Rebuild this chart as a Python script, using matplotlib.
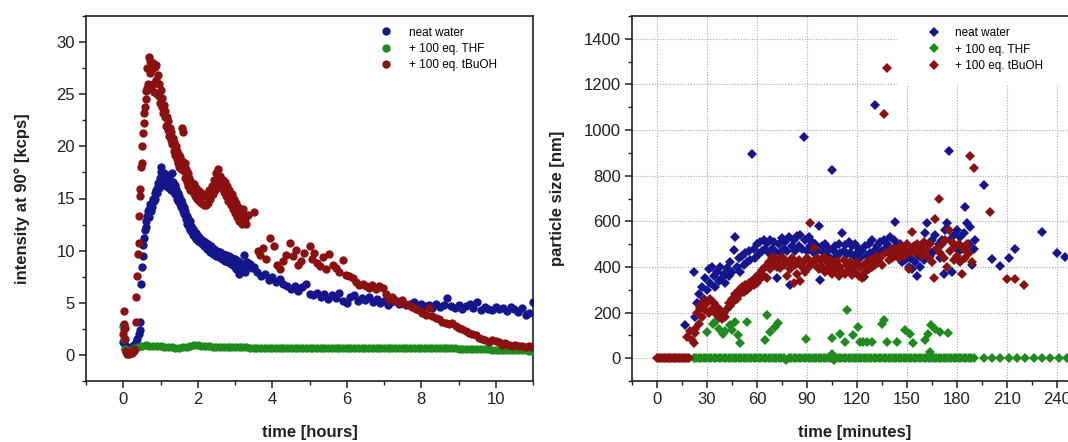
import numpy as np
import matplotlib.pyplot as plt
from matplotlib.patches import Rectangle
from matplotlib.ticker import MultipleLocator

plt.rcParams["font.family"] = ["Liberation Sans", "DejaVu Sans"]

labels = ["neat water", "+ 100 eq. THF", "+ 100 eq. tBuOH"]
colors = ["#15158c", "#1f8b1f", "#8b1111"]

# ---- left panel: scattered intensity vs time [hours] ----
water_t = [0.0, 0.02, 0.04, 0.06, 0.08, 0.1, 0.14, 0.18, 0.22, 0.26, 0.3, 0.34, 0.38, 0.42, 0.44, 0.46,
           0.48, 0.5, 0.52, 0.54, 0.56, 0.58, 0.6, 0.62, 0.64, 0.66, 0.68, 0.7, 0.72, 0.74, 0.76, 0.78,
           0.8, 0.82, 0.84, 0.86, 0.88, 0.9, 0.92, 0.94, 0.96, 0.98, 1.0, 1.02, 1.04, 1.06, 1.08, 1.1,
           1.12, 1.14, 1.16, 1.18, 1.2, 1.22, 1.24, 1.26, 1.28, 1.3, 1.32, 1.34, 1.36, 1.38, 1.4, 1.42,
           1.44, 1.46, 1.48, 1.5, 1.52, 1.54, 1.56, 1.58, 1.6, 1.62, 1.64, 1.66, 1.68, 1.7, 1.72, 1.74,
           1.76, 1.78, 1.8, 1.82, 1.84, 1.86, 1.88, 1.9, 1.92, 1.94, 1.96, 1.98, 2.0, 2.04, 2.08, 2.12,
           2.16, 2.2, 2.24, 2.28, 2.32, 2.36, 2.4, 2.44, 2.48, 2.52, 2.56, 2.6, 2.64, 2.68, 2.72, 2.76,
           2.8, 2.84, 2.88, 2.92, 2.96, 3.0, 3.04, 3.08, 3.12, 3.16, 3.2, 3.24, 3.28, 3.32, 3.36, 3.4,
           3.45, 3.5, 3.6, 3.7, 3.8, 3.9, 4.0, 4.1, 4.2, 4.3, 4.4, 4.5, 4.6, 4.7, 4.8, 4.9,
           5.0, 5.1, 5.2, 5.3, 5.4, 5.5, 5.6, 5.7, 5.8, 5.9, 6.0, 6.1, 6.2, 6.3, 6.4, 6.5,
           6.6, 6.7, 6.8, 6.9, 7.0, 7.1, 7.2, 7.3, 7.4, 7.5, 7.6, 7.7, 7.8, 7.9, 8.0, 8.1,
           8.2, 8.3, 8.4, 8.5, 8.6, 8.7, 8.8, 8.9, 9.0, 9.1, 9.2, 9.3, 9.4, 9.5, 9.6, 9.7,
           9.8, 9.9, 10.0, 10.1, 10.2, 10.3, 10.4, 10.5, 10.6, 10.7, 10.8, 10.9, 11.0]
water_int = [1.2, 2.5, 1.0, 0.6, 0.3, 0.4, 0.6, 0.5, 0.8, 0.9, 1.0, 1.2, 1.5, 2.0, 3.2, 2.4,
             6.8, 8.4, 9.5, 10.5, 11.2, 12.0, 12.8, 12.3, 13.3, 13.8, 13.2, 14.0, 14.5, 13.8, 14.6, 14.2,
             15.0, 14.8, 15.5, 15.0, 15.8, 15.5, 16.2, 16.5, 16.0, 17.0, 18.0, 17.5, 16.5, 17.2, 16.6, 17.4,
             16.3, 17.0, 16.2, 16.9, 16.4, 17.3, 16.0, 16.8, 15.8, 17.4, 16.1, 16.6, 15.6, 16.3, 15.4, 15.9,
             15.0, 15.5, 14.8, 15.2, 14.5, 14.9, 14.2, 14.6, 13.8, 14.2, 13.5, 13.8, 13.0, 13.3, 12.6, 13.0,
             12.3, 12.8, 12.0, 12.4, 11.8, 12.1, 11.5, 11.9, 11.3, 11.7, 11.1, 11.5, 10.9, 11.3, 10.7, 11.0,
             10.4, 10.8, 10.2, 10.6, 9.9, 10.4, 9.7, 10.2, 9.5, 10.0, 9.4, 9.9, 9.2, 9.7, 9.0, 9.6,
             8.9, 9.5, 8.7, 9.3, 8.5, 9.2, 8.2, 9.0, 7.8, 8.8, 8.4, 9.6, 8.0, 8.9, 8.5, 8.7,
             8.3, 8.4, 8.0, 7.6, 7.8, 7.2, 7.5, 7.0, 7.3, 6.8, 6.6, 6.3, 6.6, 6.1, 6.5, 6.8,
             5.8, 5.7, 5.9, 5.6, 5.8, 5.4, 5.7, 5.5, 5.9, 5.2, 5.0, 5.6, 5.7, 5.2, 5.5, 5.3,
             5.6, 5.1, 5.4, 5.0, 5.2, 4.8, 5.1, 5.3, 4.9, 5.0, 4.8, 4.9, 5.1, 4.7, 4.9, 4.7,
             4.8, 4.5, 4.9, 4.6, 4.8, 5.5, 4.7, 4.5, 4.8, 4.4, 4.7, 4.9, 4.5, 5.1, 4.3, 4.6,
             4.4, 4.3, 4.6, 4.4, 4.5, 4.2, 4.6, 4.4, 4.1, 4.5, 3.8, 4.0, 5.1]

thf_t = [0.0, 0.03, 0.06, 0.1, 0.15, 0.2, 0.25, 0.3, 0.4, 0.5, 0.6, 0.7, 0.8, 0.9, 1.0, 1.1,
         1.2, 1.3, 1.4, 1.5, 1.6, 1.7, 1.8, 1.9, 2.0, 2.1, 2.2, 2.3, 2.4, 2.5, 2.6, 2.7,
         2.8, 2.9, 3.0, 3.1, 3.2, 3.3, 3.4, 3.5, 3.6, 3.7, 3.8, 3.9, 4.0, 4.1, 4.2, 4.3,
         4.4, 4.5, 4.6, 4.7, 4.8, 4.9, 5.0, 5.1, 5.2, 5.3, 5.4, 5.5, 5.6, 5.7, 5.8, 5.9,
         6.0, 6.1, 6.2, 6.3, 6.4, 6.5, 6.6, 6.7, 6.8, 6.9, 7.0, 7.1, 7.2, 7.3, 7.4, 7.5,
         7.6, 7.7, 7.8, 7.9, 8.0, 8.1, 8.2, 8.3, 8.4, 8.5, 8.6, 8.7, 8.8, 8.9, 9.0, 9.1,
         9.2, 9.3, 9.4, 9.5, 9.6, 9.7, 9.8, 9.9, 10.0, 10.1, 10.2, 10.3, 10.4, 10.5, 10.6, 10.7,
         10.8, 10.9, 11.0]
thf_int = [2.8, 1.5, 0.6, 0.3, 0.4, 0.5, 0.6, 0.7, 0.8, 0.9, 0.95, 0.9, 0.9, 0.85, 0.85, 0.8,
           0.8, 0.75, 0.7, 0.7, 0.75, 0.8, 0.9, 0.95, 0.95, 0.9, 0.85, 0.85, 0.8, 0.8, 0.8, 0.78,
           0.76, 0.75, 0.75, 0.74, 0.72, 0.72, 0.7, 0.7, 0.7, 0.68, 0.68, 0.68, 0.67, 0.67, 0.66, 0.66,
           0.66, 0.65, 0.65, 0.65, 0.65, 0.65, 0.65, 0.66, 0.66, 0.66, 0.67, 0.67, 0.68, 0.68, 0.68, 0.69,
           0.7, 0.7, 0.7, 0.7, 0.7, 0.7, 0.7, 0.71, 0.71, 0.71, 0.71, 0.71, 0.7, 0.7, 0.7, 0.7,
           0.7, 0.7, 0.7, 0.69, 0.69, 0.68, 0.68, 0.67, 0.66, 0.66, 0.65, 0.64, 0.63, 0.62, 0.61, 0.6,
           0.59, 0.58, 0.57, 0.56, 0.55, 0.54, 0.53, 0.52, 0.51, 0.5, 0.49, 0.48, 0.47, 0.46, 0.45, 0.44,
           0.43, 0.42, 0.41]

tbuoh_t = [0.0, 0.02, 0.03, 0.04, 0.05, 0.07, 0.1, 0.13, 0.16, 0.2, 0.24, 0.28, 0.3, 0.33, 0.35, 0.37,
           0.39, 0.41, 0.43, 0.45, 0.46, 0.48, 0.49, 0.51, 0.53, 0.55, 0.56, 0.58, 0.6, 0.62, 0.63, 0.65,
           0.67, 0.69, 0.71, 0.73, 0.75, 0.77, 0.79, 0.81, 0.83, 0.85, 0.87, 0.89, 0.91, 0.93, 0.95, 0.97,
           0.99, 1.01, 1.03, 1.05, 1.07, 1.09, 1.11, 1.13, 1.15, 1.17, 1.19, 1.21, 1.23, 1.25, 1.27, 1.29,
           1.31, 1.33, 1.35, 1.37, 1.39, 1.41, 1.43, 1.45, 1.47, 1.49, 1.51, 1.53, 1.55, 1.57, 1.59, 1.61,
           1.63, 1.65, 1.67, 1.69, 1.71, 1.73, 1.75, 1.77, 1.8, 1.83, 1.86, 1.89, 1.92, 1.95, 1.98, 2.01,
           2.04, 2.07, 2.1, 2.13, 2.16, 2.19, 2.22, 2.25, 2.28, 2.31, 2.34, 2.37, 2.4, 2.43, 2.46, 2.49,
           2.52, 2.55, 2.58, 2.61, 2.64, 2.67, 2.7, 2.73, 2.76, 2.79, 2.82, 2.85, 2.88, 2.91, 2.94, 2.97,
           3.0, 3.03, 3.06, 3.09, 3.12, 3.15, 3.18, 3.22, 3.26, 3.3, 3.34, 3.5, 3.62, 3.68, 3.75, 3.82,
           3.93, 4.06, 4.12, 4.2, 4.29, 4.36, 4.47, 4.55, 4.64, 4.7, 4.78, 4.86, 5.0, 5.06, 5.13, 5.2,
           5.27, 5.36, 5.45, 5.53, 5.62, 5.71, 5.8, 5.89, 5.98, 6.07, 6.16, 6.25, 6.34, 6.43, 6.52, 6.6,
           6.69, 6.78, 6.87, 6.96, 7.05, 7.14, 7.22, 7.3, 7.4, 7.48, 7.57, 7.66, 7.76, 7.85, 7.94, 8.03,
           8.12, 8.2, 8.3, 8.39, 8.48, 8.57, 8.66, 8.74, 8.83, 8.92, 9.0, 9.1, 9.19, 9.28, 9.37, 9.46,
           9.55, 9.63, 9.72, 9.81, 9.9, 10.0, 10.08, 10.17, 10.26, 10.35, 10.44, 10.53, 10.62, 10.71, 10.8, 10.89,
           10.98]
tbuoh_int = [2.0, 3.0, 4.2, 2.6, 1.5, 0.4, 0.1, 0.2, 0.1, 0.3, 0.2, 0.4, 0.6, 3.2, 5.6, 7.6,
             9.7, 10.7, 13.3, 15.2, 15.9, 18.0, 18.4, 20.0, 21.3, 22.2, 23.2, 23.8, 25.3, 24.5, 25.6, 27.5,
             26.0, 28.6, 27.0, 28.2, 25.5, 27.4, 26.0, 28.0, 25.2, 27.6, 26.4, 27.8, 25.0, 26.8, 24.8, 26.0,
             24.2, 25.4, 23.8, 24.6, 23.2, 24.0, 22.8, 23.4, 22.0, 22.8, 21.6, 22.4, 21.0, 21.8, 20.6, 21.4,
             20.2, 20.8, 19.6, 20.4, 19.2, 20.0, 18.8, 19.6, 18.4, 19.2, 18.0, 19.0, 17.8, 21.8, 18.6, 21.4,
             17.6, 18.4, 17.0, 17.8, 16.6, 17.4, 16.2, 17.0, 15.8, 16.6, 15.6, 16.4, 15.2, 16.0, 15.0, 15.8,
             14.8, 15.6, 14.6, 15.4, 14.4, 15.2, 14.4, 15.4, 14.6, 15.8, 15.0, 16.2, 15.4, 16.8, 15.8, 17.4,
             16.4, 17.8, 16.6, 17.2, 16.0, 16.8, 15.6, 16.6, 15.2, 16.2, 14.8, 15.8, 14.4, 15.4, 14.0, 15.0,
             13.6, 14.6, 13.2, 14.2, 12.8, 13.6, 12.6, 14.0, 13.0, 12.6, 13.4, 13.7, 10.0, 9.6, 10.25, 9.2,
             11.2, 10.4, 8.6, 8.2, 9.0, 9.6, 10.7, 9.45, 10.1, 8.6, 9.0, 9.8, 10.4, 9.2, 9.8, 8.8,
             8.5, 9.4, 8.2, 9.7, 8.6, 8.3, 8.0, 9.1, 7.7, 7.6, 7.4, 7.0, 6.7, 6.8, 6.6, 6.4,
             6.7, 6.3, 6.6, 6.4, 5.8, 5.4, 5.6, 5.2, 5.1, 5.3, 4.9, 4.8, 4.6, 4.4, 4.3, 4.0,
             3.8, 4.5, 3.7, 3.5, 3.4, 3.2, 3.1, 3.0, 3.1, 2.8, 2.6, 2.5, 2.3, 2.1, 2.0, 1.9,
             1.6, 1.5, 1.4, 1.2, 1.4, 1.3, 1.25, 1.0, 1.1, 0.95, 0.9, 1.0, 0.85, 0.9, 0.8, 0.85,
             0.8]

# ---- right panel: particle size vs time [minutes] ----
water_min = [17, 22, 23, 24, 25, 26, 27, 28, 29, 30, 31, 32, 33, 34, 35, 36,
             37, 38, 39, 40, 41, 42, 43, 44, 45, 46, 47, 48, 49, 50, 51, 52,
             53, 54, 55, 56, 57, 58, 59, 60, 61, 62, 63, 64, 65, 66, 67, 68,
             69, 70, 71, 72, 73, 74, 75, 76, 77, 78, 79, 80, 81, 82, 83, 84,
             85, 86, 87, 88, 89, 90, 91, 92, 93, 94, 95, 96, 97, 98, 99, 100,
             101, 102, 103, 104, 105, 106, 107, 108, 109, 110, 111, 112, 113, 114, 115, 116,
             117, 118, 119, 120, 121, 122, 123, 124, 125, 126, 127, 128, 129, 130, 131, 132,
             133, 134, 135, 136, 137, 138, 139, 140, 141, 142, 143, 144, 145, 146, 147, 148,
             149, 150, 151, 152, 153, 154, 155, 156, 157, 158, 159, 160, 161, 162, 163, 164,
             165, 166, 167, 168, 169, 170, 171, 172, 173, 174, 175, 176, 177, 178, 179, 180,
             181, 182, 183, 184, 185, 186, 187, 188, 189, 190, 191, 196, 201, 206, 211, 215,
             231, 240, 245]
water_nm = [145, 378, 180, 240, 280, 220, 310, 260, 350, 300, 390, 330, 400, 360, 310, 380,
            340, 400, 350, 370, 330, 395, 360, 420, 380, 475, 530, 400, 440, 380, 450, 410,
            460, 420, 470, 430, 893, 480, 440, 500, 455, 510, 470, 520, 480, 505, 460, 520,
            480, 510, 470, 352, 500, 460, 525, 480, 510, 470, 530, 320, 490, 520, 470, 535,
            490, 540, 480, 970, 520, 470, 530, 490, 510, 460, 500, 470, 580, 342, 490, 460,
            500, 450, 480, 440, 827, 470, 490, 450, 500, 460, 548, 470, 495, 455, 510, 460,
            490, 450, 500, 460, 480, 440, 470, 355, 490, 450, 500, 460, 520, 470, 1108, 490,
            460, 510, 470, 520, 480, 500, 460, 530, 480, 520, 599, 490, 440, 500, 420, 480,
            430, 460, 400, 440, 390, 470, 420, 361, 450, 400, 480, 430, 548, 592, 500, 450,
            520, 470, 540, 480, 500, 440, 520, 371, 560, 592, 907, 520, 380, 540, 490, 560,
            470, 530, 480, 550, 661, 592, 500, 577, 408, 480, 520, 761, 435, 405, 440, 479,
            552, 463, 443]

thf_min = [22, 23.5, 25, 26.5, 28, 29.5, 31, 32.5, 34, 35.5, 37, 38.5, 40, 41.5, 43, 44.5,
           46, 47.5, 49, 50.5, 52, 53.5, 55, 56.5, 58, 59.5, 61, 62.5, 64, 65.5, 67, 68.5,
           70, 71.5, 73, 74.5, 76, 77.5, 79, 80.5, 82, 83.5, 85, 86.5, 88, 89.5, 91, 92.5,
           94, 95.5, 97, 98.5, 100, 101.5, 103, 104.5, 106, 107.5, 109, 110.5, 112, 113.5, 115, 116.5,
           118, 119.5, 121, 122.5, 124, 125.5, 127, 128.5, 130, 131.5, 133, 134.5, 136, 137.5, 139, 140.5,
           142, 143.5, 145, 146.5, 148, 149.5, 151, 152.5, 154, 155.5, 157, 158.5, 160, 161.5, 163, 164.5,
           166, 167.5, 169, 170.5, 172, 173.5, 175, 176.5, 178, 179.5, 181, 182.5, 184, 185.5, 187, 188.5,
           190, 196, 201, 206, 211, 216, 221, 226, 231, 236, 241, 246,
           29.8, 33.8, 35, 37.4, 39.8, 41, 43.8, 45, 46.8, 48.8, 49.8, 53.8, 64.8, 66.2, 67.8, 70.8,
           72.8, 89.4, 104.8, 104.8, 109.8, 112.8, 113.8, 117.8, 120.8, 121.8, 123.8, 125.8, 128.8, 134.8, 136.2, 137.8,
           143.8, 148.8, 151.8, 153.8, 160.8, 162.8, 163.8, 164.2, 166.8, 169.8, 174.8]
thf_nm = [0, 0, 0, 0, 0, 0, 0, 0, 0, 0, 0, 0, 0, 0, 0, 0,
          0, 0, 0, 0, 0, 0, 0, 0, 0, 0, 0, 0, 0, 0, 0, 0,
          0, 0, 0, 0, 0, -8, 0, 0, 0, 0, 0, 0, 0, 0, 0, 0,
          0, 0, 0, 0, 0, 0, 0, 0, -10, 0, 0, 0, 0, 0, 0, 0,
          0, 0, 0, 0, 0, 0, 0, 0, 0, 0, 0, 0, 0, 0, 0, 0,
          0, 0, 0, 0, 0, 0, 0, 0, 0, 0, 0, 0, 0, 0, 0, 0,
          0, 0, 0, 0, 0, 0, 0, 0, 0, 0, 0, 0, 0, 0, 0, 0,
          0, 0, 0, 0, 0, 0, 0, 0, 0, 0, 0, 0,
          115, 151, 160, 129, 107, 120, 144, 125, 159, 100, 67, 159, 78, 191, 115, 137,
          156, 82, 88, 19, 107, 70, 213, 100, 137, 70, 70, 73, 73, 151, 166, 70,
          70, 122, 107, 67, 78, 107, 29, 144, 129, 115, 111]

tbuoh_min = [0, 1, 2, 3, 4, 5, 6, 7, 8, 9, 10, 11, 12, 13, 14, 15, 16, 17, 18, 19,
             18, 20, 21, 22, 22.5, 23, 24, 25, 26, 27, 28, 29, 30, 31, 32, 33,
             34, 35, 36, 37, 38, 39, 40, 41, 42, 43, 44, 45, 46, 47, 48, 49,
             50, 51, 52, 53, 54, 55, 56, 57, 58, 59, 60, 61, 62, 63, 64, 65,
             66, 67, 68, 69, 70, 71, 72, 73, 74, 75, 76, 77, 78, 79, 80, 81,
             82, 83, 84, 85, 86, 87, 88, 89, 90, 91, 92, 93, 94, 95, 96, 97,
             98, 99, 100, 101, 102, 103, 104, 105, 106, 107, 108, 109, 110, 111, 112, 113,
             114, 115, 116, 117, 118, 119, 120, 121, 122, 123, 124, 125, 126, 127, 128, 129,
             130, 131, 132, 133, 134, 135, 136, 137, 138, 139, 140, 141, 142, 143, 144, 145,
             146, 147, 148, 149, 150, 151, 152, 153, 154, 155, 156, 157, 158, 159, 160, 161,
             162, 163, 164, 165, 166, 167, 168, 169, 170, 171, 172, 173, 174, 175, 176, 177,
             178, 179, 180, 181, 182, 183, 184, 185, 186, 187, 188, 189, 190, 200, 210, 215,
             220]
tbuoh_nm = [0, 0, 0, 0, 0, 0, 0, 0, 0, 0, 0, 0, 0, 0, 0, 0, 0, 0, 0, 0,
            95, 120, 80, 65, 110, 130, 200, 150, 230, 180, 250, 210, 240, 200, 260, 215,
            240, 200, 225, 180, 210, 170, 200, 180, 215, 240, 230, 260, 250, 280, 260, 300,
            280, 310, 290, 320, 300, 330, 310, 340, 320, 350, 330, 370, 345, 385, 360, 400,
            350, 420, 390, 445, 410, 440, 400, 430, 395, 445, 410, 430, 360, 420, 390, 440,
            330, 410, 370, 430, 340, 400, 420, 380, 440, 400, 592, 420, 485, 410, 440, 390,
            430, 400, 445, 380, 420, 395, 430, 370, 410, 385, 425, 360, 400, 380, 430, 370,
            410, 390, 420, 365, 405, 380, 420, 360, 400, 350, 410, 380, 420, 390, 430, 400,
            440, 410, 450, 420, 440, 410, 1071, 460, 1274, 430, 470, 440, 480, 450, 470, 440,
            490, 460, 480, 450, 500, 391, 470, 555, 490, 460, 500, 470, 490, 450, 510, 470,
            480, 440, 500, 420, 352, 611, 480, 699, 460, 500, 440, 520, 401, 562, 470, 510,
            430, 490, 450, 500, 420, 371, 480, 440, 500, 460, 885, 420, 834, 640, 345, 345,
            323]

fig = plt.figure(figsize=(10.68, 4.42), dpi=100)
W, H = 1068, 442
ax1 = fig.add_axes([86 / W, (H - 381) / H, (533 - 86) / W, (381 - 16) / H])
ax2 = fig.add_axes([632 / W, (H - 381) / H, (W - 632) / W, (381 - 16) / H])

mk = dict(linestyle="none", markeredgewidth=0)

ax1.plot(water_t, water_int, "o", ms=6.0, color=colors[0], label=labels[0], zorder=3, **mk)
ax1.plot(thf_t, thf_int, "o", ms=6.0, color=colors[1], label=labels[1], zorder=3, **mk)
ax1.plot(tbuoh_t, tbuoh_int, "o", ms=6.0, color=colors[2], label=labels[2], zorder=4, **mk)

ax2.plot(water_min, water_nm, "D", ms=5.0, color=colors[0], label=labels[0], zorder=3, **mk)
ax2.plot(thf_min, thf_nm, "D", ms=5.0, color=colors[1], label=labels[1], zorder=3, **mk)
ax2.plot(tbuoh_min, tbuoh_nm, "D", ms=5.0, color=colors[2], label=labels[2], zorder=4, **mk)

ax1.set_xlim(-1, 11)
ax1.set_ylim(-2.5, 32.5)
ax1.xaxis.set_major_locator(MultipleLocator(2))
ax1.xaxis.set_minor_locator(MultipleLocator(1))
ax1.yaxis.set_major_locator(MultipleLocator(5))
ax1.yaxis.set_minor_locator(MultipleLocator(2.5))

ax2.set_xlim(-15, 246.6)
ax2.set_ylim(-100, 1500)
ax2.xaxis.set_major_locator(MultipleLocator(30))
ax2.xaxis.set_minor_locator(MultipleLocator(15))
ax2.yaxis.set_major_locator(MultipleLocator(200))
ax2.yaxis.set_minor_locator(MultipleLocator(100))
ax2.set_yticks(np.arange(0, 1401, 200))
ax2.grid(True, which="major", color="#a8a8a8", linestyle=(0, (1, 1.5)), linewidth=0.8, zorder=0)
ax2.spines["right"].set_visible(False)
# white box behind the legend, hiding the grid there
ax2.add_patch(Rectangle((0.608, 0.808), 0.4, 0.2, transform=ax2.transAxes,
                        facecolor="white", edgecolor="none", zorder=1.5))

for ax in (ax1, ax2):
    ax.set_axisbelow(True)
    for s in ax.spines.values():
        s.set_linewidth(1.2)
        s.set_color("#202020")
    ax.tick_params(which="major", direction="out", length=5, width=1.1, labelsize=12,
                   color="#202020", labelcolor="#202020", pad=3)
    ax.tick_params(which="minor", direction="out", length=3, width=1.0, color="#202020")
    ax.tick_params(top=False, right=False, which="both")

ax1.set_xlabel("time [hours]", fontsize=12, fontweight="bold", color="#202020")
ax1.set_ylabel("intensity at 90° [kcps]", fontsize=12, fontweight="bold", color="#202020")
ax2.set_xlabel("time [minutes]", fontsize=12, fontweight="bold", color="#202020")
ax2.set_ylabel("particle size [nm]", fontsize=12, fontweight="bold", color="#202020")
ax1.xaxis.set_label_coords(0.5, -0.12)
ax2.xaxis.set_label_coords(0.511, -0.12)
ax1.yaxis.set_label_coords(-0.125, 0.5)
ax2.yaxis.set_label_coords(-0.154, 0.5)

leg_kw = dict(frameon=False, fontsize=8.5, handlelength=1.0, numpoints=1, borderpad=0,
              borderaxespad=0, labelspacing=0.36, loc="upper left")
ax1.legend(bbox_to_anchor=(0.658, 0.971), handletextpad=1.45, **leg_kw)
leg2 = ax2.legend(bbox_to_anchor=(0.679, 0.969), handletextpad=1.28, **leg_kw)
leg2.set_zorder(5)

fig.savefig("out.png", dpi=100)
